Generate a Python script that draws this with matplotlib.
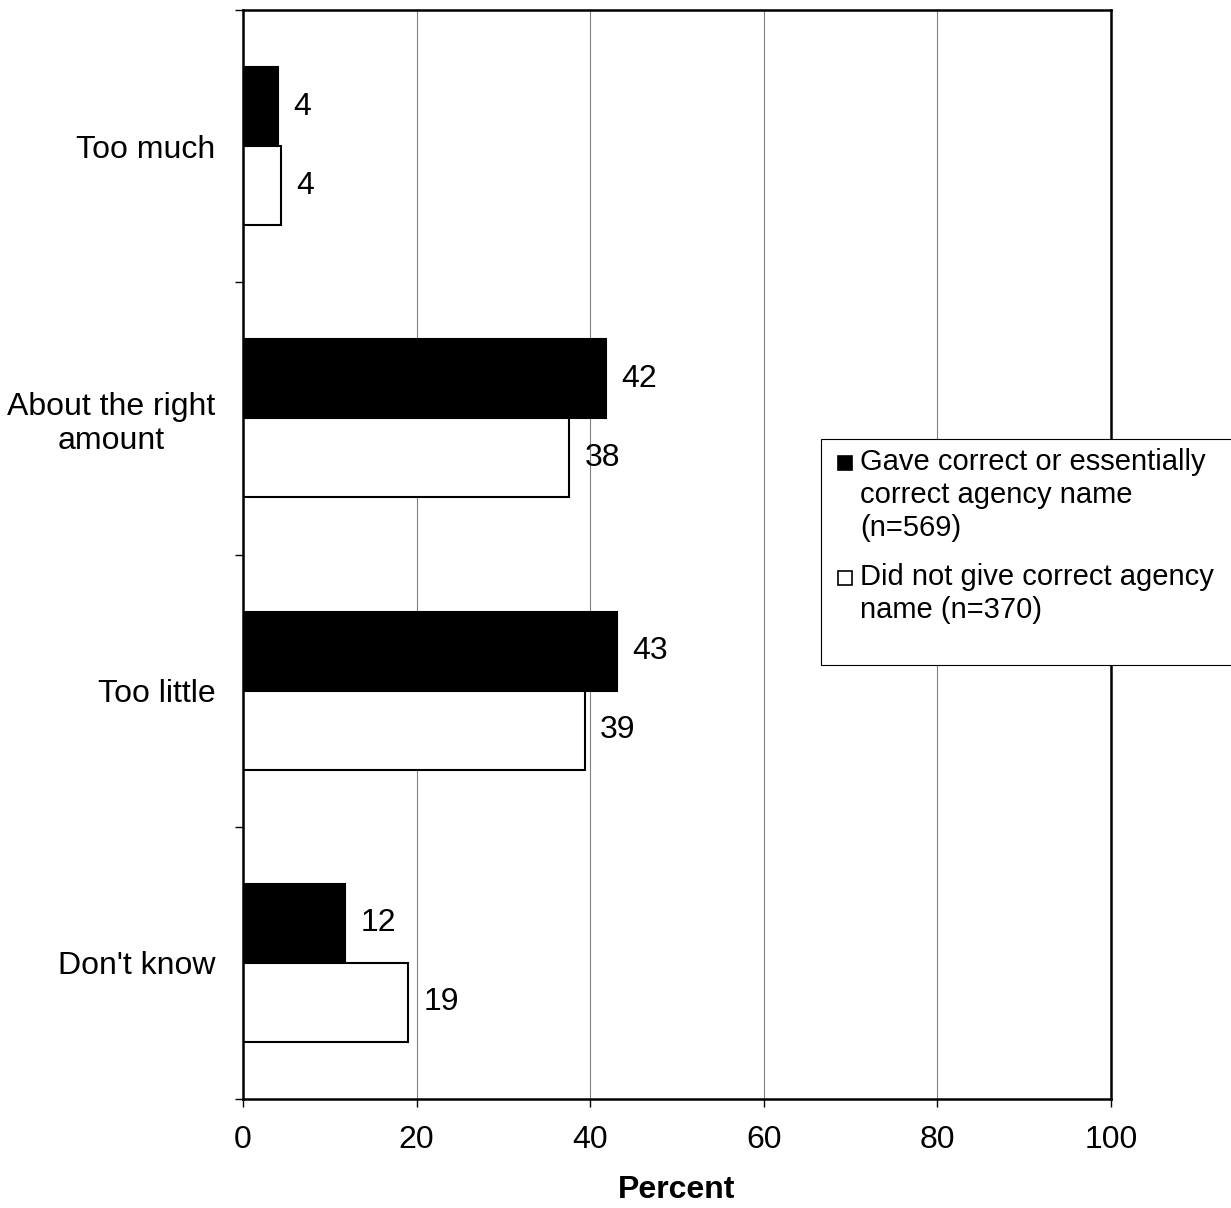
import matplotlib
matplotlib.use("Agg")
import matplotlib.pyplot as plt
from matplotlib.patches import Rectangle
import numpy as np

plt.rcParams['font.family'] = ['Liberation Sans', 'DejaVu Sans']

# data
categories = ["Too much", "About the right\namount", "Too little", "Don't know"]
correct_name = [4.0, 41.8, 43.1, 11.8]      # black bars
no_correct_name = [4.4, 37.6, 39.4, 19.0]   # white bars
legend_labels = ["Gave correct or essentially\ncorrect agency name\n(n=569)",
                 "Did not give correct agency\nname (n=370)"]
legend_colors = ["black", "white"]
x_ticks = [0, 20, 40, 60, 80, 100]

fs = 23
fig = plt.figure(figsize=(12.31, 12.08), dpi=100)
ax = fig.add_axes([243 / 1231, 1 - 1099 / 1208, 868 / 1231, 1089 / 1208])

y = np.arange(len(categories))
h = 0.29
ax.barh(y - h / 2, correct_name, height=h, color="black", edgecolor="black", linewidth=1.5, zorder=3)
ax.barh(y + h / 2, no_correct_name, height=h, color="white", edgecolor="black", linewidth=1.5, zorder=3)

for yi, v in zip(y, correct_name):
    ax.annotate(f"{v:.0f}", (v, yi - h / 2), xytext=(11, 0), textcoords="offset points",
                va="center", ha="left", fontsize=fs)
for yi, v in zip(y, no_correct_name):
    ax.annotate(f"{v:.0f}", (v, yi + h / 2), xytext=(11, 0), textcoords="offset points",
                va="center", ha="left", fontsize=fs)

ax.set_xlim(0, 100)
ax.set_ylim(len(categories) - 0.5, -0.5)
ax.set_xticks(x_ticks)
ax.set_xticklabels([str(t) for t in x_ticks], fontsize=fs)
ax.tick_params(axis="x", direction="out", length=6, width=1, pad=13)

# boundaries get the tick marks, centres get the labels
ax.set_yticks(np.arange(len(categories) + 1) - 0.5)
ax.set_yticklabels([])
ax.set_yticks(y, minor=True)
ax.set_yticklabels(categories, minor=True, fontsize=fs, multialignment="center")
ax.tick_params(axis="y", which="major", direction="out", length=6, width=1)
ax.tick_params(axis="y", which="minor", length=0, pad=20)

ax.grid(axis="x", color="#808080", linewidth=0.8, zorder=0)
ax.set_axisbelow(True)
for s in ax.spines.values():
    s.set_linewidth(1.8)
    s.set_zorder(4)

ax.set_xlabel("Percent", fontsize=fs, fontweight="bold", labelpad=14)

# legend drawn by hand, box clipped by the right edge of the figure
W, H = 1231, 1208
fig.patches.append(Rectangle((821 / W, 1 - 665 / H), 430 / W, 226 / H,
                             transform=fig.transFigure, facecolor="white",
                             edgecolor="black", linewidth=0.8, zorder=5))
for i, (lab, col) in enumerate(zip(legend_labels, legend_colors)):
    top = 448 + i * 115
    fig.patches.append(Rectangle((838 / W, 1 - (top + 22) / H), 14 / W, 14 / H,
                                 transform=fig.transFigure, facecolor=col,
                                 edgecolor="black", linewidth=1.2, zorder=6))
    fig.text(860 / W, 1 - top / H, lab, fontsize=21, va="top", ha="left",
             linespacing=1.22, zorder=6)

fig.savefig("out.png", dpi=100)
